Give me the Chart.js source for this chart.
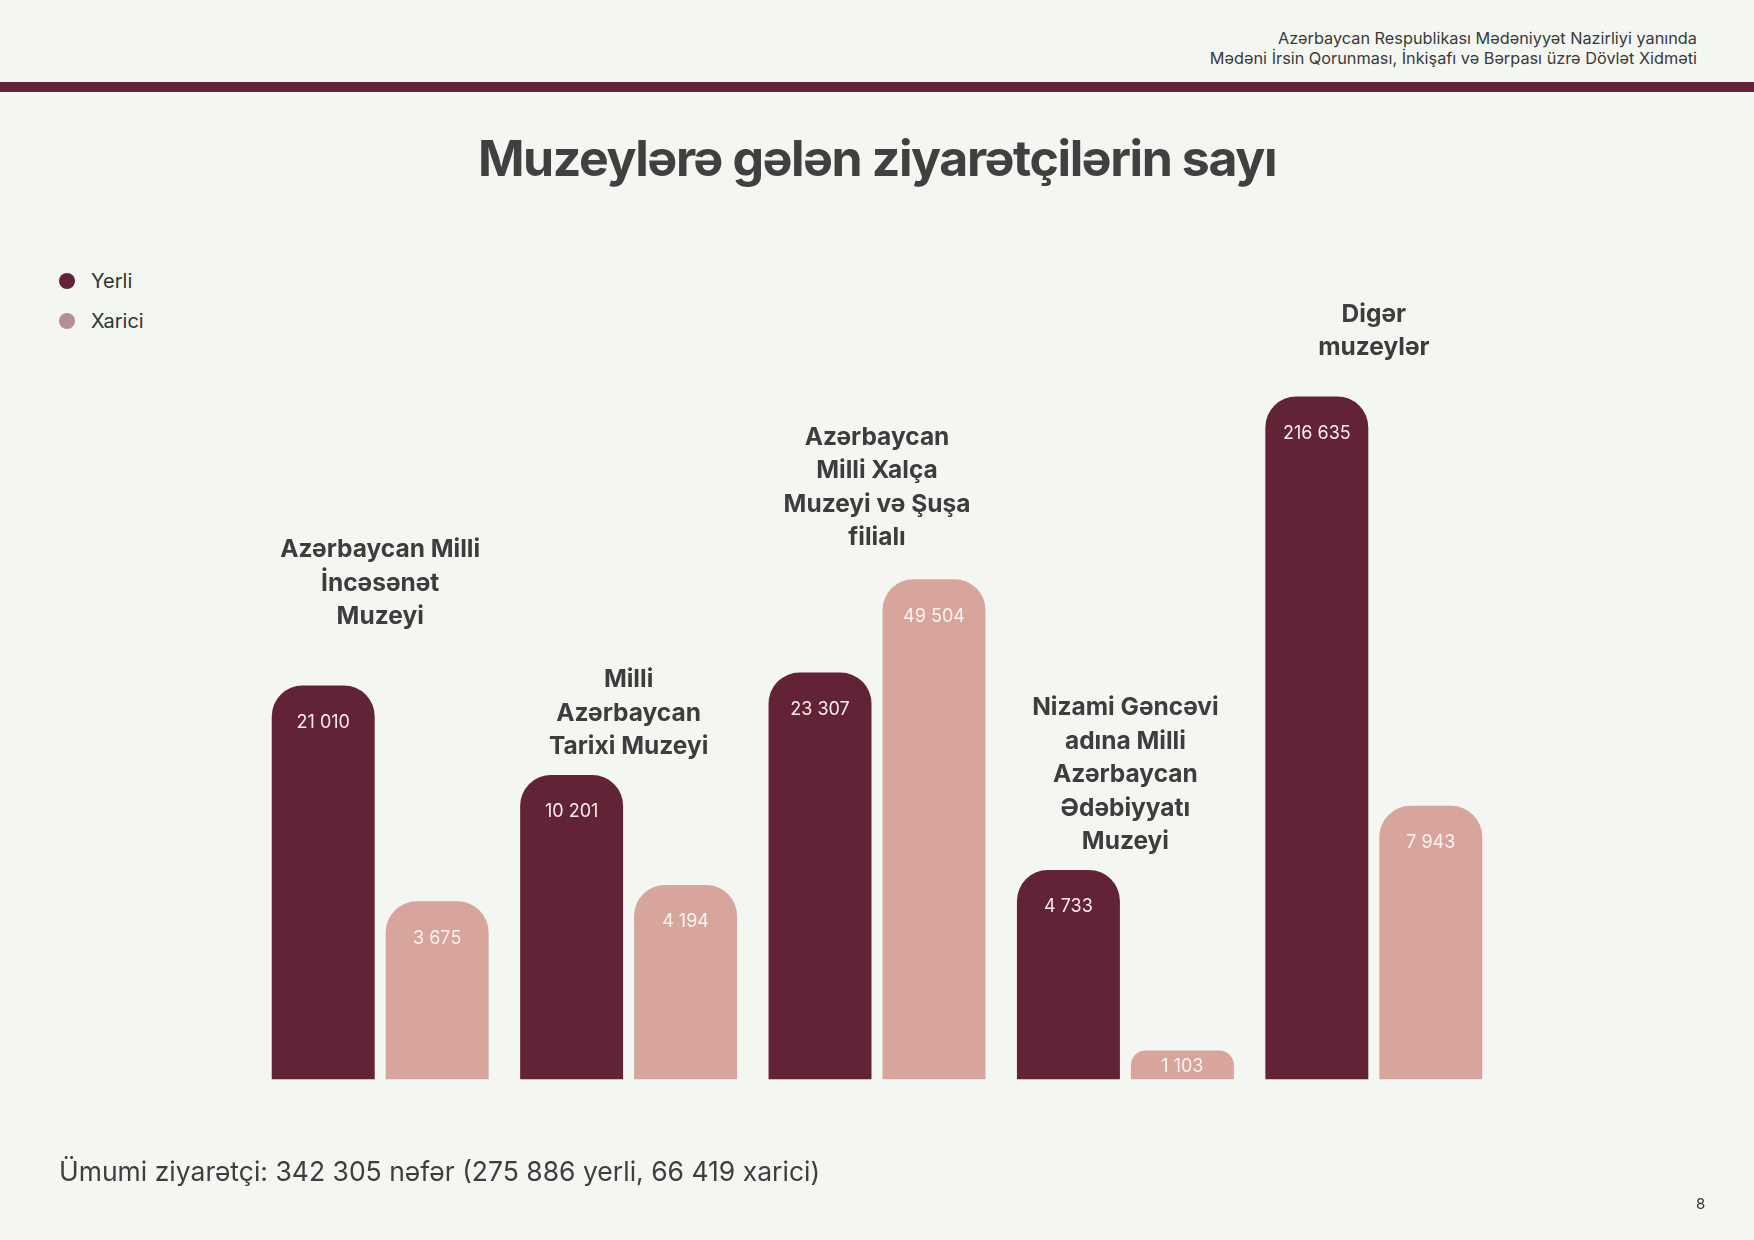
<!DOCTYPE html>
<html lang="az">
<head>
<meta charset="utf-8">
<title>Muzeylərə gələn ziyarətçilərin sayı</title>
<script src="https://cdn.jsdelivr.net/npm/chart.js@4.4.1/dist/chart.umd.min.js"></script>
<style>
  html, body { margin: 0; padding: 0; }
  body { width: 1754px; height: 1240px; background: #f4f6f1; position: relative; overflow: hidden; font-family: Inter, "Noto Sans", sans-serif; color: #404040; }
  #chart { position: absolute; left: 0; top: 0; }
  .hdr { position: absolute; right: 57px; text-align: right; font-size: 16.3px; line-height: 20px; color: #3a3a3a; white-space: nowrap; }
  .rule { position: absolute; left: 0; top: 82px; width: 1754px; height: 10px; background: #62233a; }
  .title { position: absolute; left: 0; width: 1754px; top: 126px; text-align: center; font-weight: 700; font-size: 50px; letter-spacing: -1.4px; color: #404040; line-height: 64px; }
  .legend { position: absolute; left: 59px; font-size: 20px; color: #333; }
  .legend .item { position: absolute; left: 0; white-space: nowrap; display: flex; align-items: center; height: 24px; }
  .legend .dot { width: 16px; height: 16px; border-radius: 50%; display: inline-block; margin-right: 16px; }
  .footer { position: absolute; left: 59px; top: 1155px; font-size: 26.5px; color: #3e3e3e; white-space: nowrap; }
  .page { position: absolute; left: 1696px; top: 1194px; font-size: 15px; color: #333; }
</style>
</head>
<body>
<div class="hdr" style="top:28px">Azərbaycan Respublikası Mədəniyyət Nazirliyi yanında</div>
<div class="hdr" style="top:48px">Mədəni İrsin Qorunması, İnkişafı və Bərpası üzrə Dövlət Xidməti</div>
<div class="rule"></div>
<div class="title">Muzeylərə gələn ziyarətçilərin sayı</div>
<div class="legend">
  <div class="item" style="top:269px"><span class="dot" style="background:#62223a"></span><span>Yerli</span></div>
  <div class="item" style="top:309px"><span class="dot" style="background:#b48f93"></span><span>Xarici</span></div>
</div>
<canvas id="chart" width="1754" height="1240"></canvas>
<div class="footer">Ümumi ziyarətçi: 342 305 nəfər (275 886 yerli, 66 419 xarici)</div>
<div class="page">8</div>
<script>
// ---- Data ----
const categories = [
  ["Azərbaycan Milli", "İncəsənət", "Muzeyi"],
  ["Milli", "Azərbaycan", "Tarixi Muzeyi"],
  ["Azərbaycan", "Milli Xalça", "Muzeyi və Şuşa", "filialı"],
  ["Nizami Gəncəvi", "adına Milli", "Azərbaycan", "Ədəbiyyatı", "Muzeyi"],
  ["Digər", "muzeylər"]
];
const seriesNames = ["Yerli", "Xarici"];
const yerli  = [21010, 10201, 23307, 4733, 216635];
const xarici = [3675, 4194, 49504, 1103, 7943];

// ---- Styles ----
const barColors = ["#612335", "#d8a59d"];
const labelLastLineY = [617, 820, 538, 847, 348]; // preferred centre of the last category-label line
const fmt = v => String(v).replace(/\B(?=(\d{3})+(?!\d))/g, " ");

const labelsPlugin = {
  id: 'barLabels',
  afterDatasetsDraw(chart) {
    const ctx = chart.ctx;
    const base = chart.scales.y.getPixelForValue(chart.scales.y.min);
    ctx.save();
    ctx.textAlign = 'center';
    ctx.textBaseline = 'middle';
    // value labels
    ctx.font = '400 18px Inter, "Noto Sans", sans-serif';
    ctx.fillStyle = 'rgba(255,248,246,0.95)';
    chart.data.datasets.forEach((ds, di) => {
      chart.getDatasetMeta(di).data.forEach((bar, i) => {
        const y = Math.min(bar.y + 37, base - 13);
        ctx.fillText(fmt(ds.data[i]), bar.x, y);
      });
    });
    // category labels
    ctx.font = '700 24.5px Inter, "Noto Sans", sans-serif';
    ctx.fillStyle = '#3d3d3d';
    const lh = 33.5;
    categories.forEach((lines, i) => {
      const b0 = chart.getDatasetMeta(0).data[i];
      const b1 = chart.getDatasetMeta(1).data[i];
      const top = Math.min(b0.y, b1.y);
      const cx = (b0.x + b1.x) / 2;
      const last = Math.min(labelLastLineY[i], top - 28);
      lines.forEach((t, k) => {
        ctx.fillText(t, cx, last - (lines.length - 1 - k) * lh);
      });
    });
    ctx.restore();
  }
};

new Chart(document.getElementById('chart'), {
  type: 'bar',
  data: {
    labels: categories.map(c => c.join(' ')),
    datasets: [
      { label: seriesNames[0], data: yerli, backgroundColor: barColors[0] },
      { label: seriesNames[1], data: xarici, backgroundColor: barColors[1] }
    ]
  },
  options: {
    responsive: false,
    animation: false,
    devicePixelRatio: 1,
    layout: { padding: { left: 256, right: 256, top: 200, bottom: 160.5 } },
    datasets: {
      bar: {
        categoryPercentage: 0.9175,
        barPercentage: 0.9035,
        borderRadius: 31,
        borderSkipped: 'start',
        borderWidth: 0
      }
    },
    scales: {
      x: { display: false },
      y: { type: 'logarithmic', display: false, min: 872, max: 1057800, bounds: 'data' }
    },
    plugins: {
      legend: { display: false },
      tooltip: { enabled: false },
      title: { display: false }
    }
  },
  plugins: [labelsPlugin]
});
</script>
</body>
</html>
